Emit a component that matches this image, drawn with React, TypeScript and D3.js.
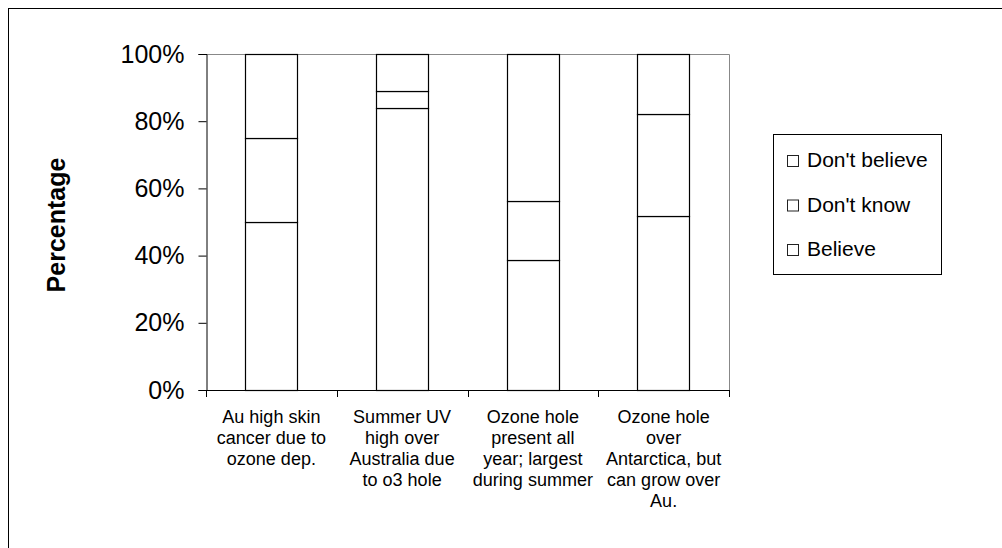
import React, { useEffect, useRef } from "react";
import * as d3 from "d3";

const categories = [
  ["Au high skin", "cancer due to", "ozone dep."],
  ["Summer UV", "high over", "Australia due", "to o3 hole"],
  ["Ozone hole", "present all", "year; largest", "during summer"],
  ["Ozone hole", "over", "Antarctica, but", "can grow over", "Au."],
];
const believe = [50, 83.8, 38.8, 51.8];
const dontKnow = [25, 5.1, 17.5, 30.4];
const dontBelieve = [25, 11.1, 43.7, 17.8];
const seriesNames = ["Believe", "Don't know", "Don't believe"];
const yTicks = [0, 20, 40, 60, 80, 100];

const FONT = "'Liberation Sans', Arial, sans-serif";

export default function App() {
  const ref = useRef<SVGSVGElement>(null);

  useEffect(() => {
    const svg = d3.select(ref.current);
    svg.selectAll("*").remove();

    const left = 206;
    const right = 729;
    const top = 54;
    const bottom = 390;

    // outer chart frame, runs off the page right and bottom
    svg
      .append("rect")
      .attr("x", 8.5)
      .attr("y", 8.5)
      .attr("width", 1010)
      .attr("height", 600)
      .attr("fill", "#fff")
      .attr("stroke", "#000")
      .attr("stroke-width", 1);

    const rows = categories.map((c, i) => ({
      key: i,
      Believe: believe[i],
      "Don't know": dontKnow[i],
      "Don't believe": dontBelieve[i],
    }));

    const x = d3
      .scaleBand<number>()
      .domain(rows.map((r) => r.key))
      .range([left, right])
      .paddingInner(0.6)
      .paddingOuter(0.3);

    const y = d3.scaleLinear().domain([0, 100]).range([bottom, top]);

    // plot area border (grey, top and right)
    svg
      .append("path")
      .attr("d", `M${left},${top + 0.5}H${right + 0.5}V${bottom}`)
      .attr("fill", "none")
      .attr("stroke", "#888")
      .attr("stroke-width", 1);

    const stack = d3.stack<any>().keys(seriesNames)(rows);

    svg
      .append("g")
      .selectAll("g")
      .data(stack)
      .enter()
      .append("g")
      .selectAll("rect")
      .data((d) => d)
      .enter()
      .append("rect")
      .attr("x", (d: any) => Math.round(x(d.data.key)!) + 0.5)
      .attr("y", (d) => Math.round(y(d[1])) + 0.5)
      .attr("width", Math.round(x.bandwidth()))
      .attr("height", (d) => Math.round(y(d[0])) - Math.round(y(d[1])))
      .attr("fill", "#fff")
      .attr("stroke", "#000")
      .attr("stroke-width", 1.2);

    // y axis
    const yAxis = svg
      .append("g")
      .attr("transform", `translate(${left + 0.5},0)`)
      .call(
        d3
          .axisLeft(y)
          .tickValues(yTicks)
          .tickSize(8)
          .tickPadding(14)
          .tickFormat((d) => `${d}%`)
      );
    yAxis.select(".domain").attr("stroke", "#000");
    yAxis.selectAll(".tick line").attr("stroke", "#000");
    yAxis
      .selectAll(".tick text")
      .attr("fill", "#000")
      .style("font-family", FONT)
      .style("font-size", "25px");

    // x axis with ticks at category boundaries
    const step = x.step();
    const boundaries = d3.range(categories.length + 1).map((i) => left + i * step);
    const xAxis = svg.append("g");
    xAxis
      .append("line")
      .attr("x1", left)
      .attr("x2", right + 0.5)
      .attr("y1", bottom + 0.5)
      .attr("y2", bottom + 0.5)
      .attr("stroke", "#000");
    xAxis
      .selectAll("line.tick")
      .data(boundaries)
      .enter()
      .append("line")
      .attr("class", "tick")
      .attr("x1", (d) => Math.round(d) + 0.5)
      .attr("x2", (d) => Math.round(d) + 0.5)
      .attr("y1", bottom)
      .attr("y2", bottom + 7)
      .attr("stroke", "#000");

    const labels = xAxis
      .selectAll("text")
      .data(categories)
      .enter()
      .append("text")
      .attr("text-anchor", "middle")
      .style("font-family", FONT)
      .style("font-size", "18px")
      .attr("fill", "#000");
    labels
      .selectAll("tspan")
      .data((d, i) => d.map((line) => ({ line, i })))
      .enter()
      .append("tspan")
      .attr("x", (d) => x(d.i)! + x.bandwidth() / 2)
      .attr("y", (d, j) => 423 + j * 21)
      .text((d) => d.line);

    // y axis title
    svg
      .append("text")
      .attr("transform", `translate(65,225) rotate(-90)`)
      .attr("text-anchor", "middle")
      .style("font-family", FONT)
      .style("font-size", "25px")
      .style("font-weight", "bold")
      .text("Percentage");

    // legend
    const legend = svg.append("g");
    legend
      .append("rect")
      .attr("x", 773.5)
      .attr("y", 134.5)
      .attr("width", 168)
      .attr("height", 140)
      .attr("fill", "#fff")
      .attr("stroke", "#000");
    const items = seriesNames.slice().reverse();
    const entry = legend
      .selectAll("g.item")
      .data(items)
      .enter()
      .append("g")
      .attr("class", "item")
      .attr("transform", (d, i) => `translate(0,${167 + i * 44.5})`);
    entry
      .append("rect")
      .attr("x", 787.5)
      .attr("y", -11.5)
      .attr("width", 11)
      .attr("height", 11)
      .attr("fill", "#fff")
      .attr("stroke", "#222");
    entry
      .append("text")
      .attr("x", 807)
      .attr("y", 0)
      .style("font-family", FONT)
      .style("font-size", "21px")
      .attr("fill", "#000")
      .text((d) => d);
  }, []);

  return (
    <svg
      ref={ref}
      width={1002}
      height={548}
      style={{ position: "absolute", left: 0, top: 0, overflow: "hidden" }}
    />
  );
}
